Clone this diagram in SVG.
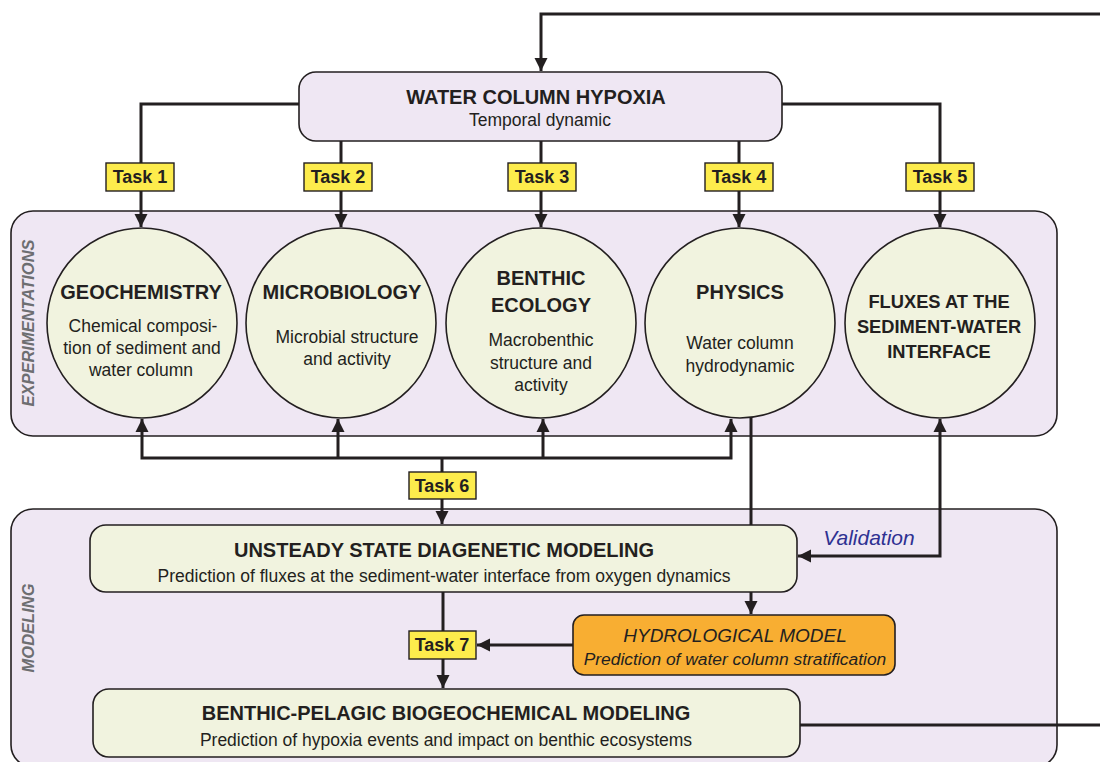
<svg xmlns="http://www.w3.org/2000/svg" width="1100" height="762" viewBox="0 0 1100 762">
<style>
.panel{fill:#efe7f3;stroke:#231f20;stroke-width:1.6}
.node{fill:#f1f3df;stroke:#231f20;stroke-width:1.6}
.top{fill:#efe7f3;stroke:#231f20;stroke-width:1.6}
.hydro{fill:#f8ae32;stroke:#231f20;stroke-width:1.6}
.task{fill:#fdec4c;stroke:#231f20;stroke-width:1.4}
.ln{fill:none;stroke:#231f20;stroke-width:3}
text{font-family:"Liberation Sans",Arial,sans-serif;fill:#231f20;text-anchor:middle}
.t{font-weight:bold;font-size:20px}
.s{font-size:17.5px}
.tk{font-weight:bold;font-size:18px}
.side{font-weight:bold;font-style:italic;font-size:16.5px;fill:#6d6e71}
.it{font-style:italic}
</style>
<defs>
<marker id="ah" markerUnits="userSpaceOnUse" markerWidth="14" markerHeight="14" viewBox="0 0 14 14" refX="13" refY="7" orient="auto-start-reverse">
<path d="M0,0.5 L13,7 L0,13.5 z" fill="#231f20"/>
</marker>
</defs>

<g id="panel-experimentations">
<rect class="panel" x="11" y="211" width="1046" height="225" rx="22"/>
<text class="side" transform="translate(34,323) rotate(-90)">EXPERIMENTATIONS</text>
</g>
<g id="panel-modeling">
<rect class="panel" x="11" y="509" width="1046" height="258" rx="22"/>
<text class="side" transform="translate(34,628) rotate(-90)">MODELING</text>
</g>

<g id="connectors">
<path class="ln" d="M1100,14 L541,14 L541,71" marker-end="url(#ah)"/>
<path class="ln" d="M300,104 L141,104 L141,227" marker-end="url(#ah)"/>
<path class="ln" d="M341,140 L341,227" marker-end="url(#ah)"/>
<path class="ln" d="M541,140 L541,227" marker-end="url(#ah)"/>
<path class="ln" d="M739,140 L739,227" marker-end="url(#ah)"/>
<path class="ln" d="M781,104 L940,104 L940,227" marker-end="url(#ah)"/>
<path class="ln" d="M142,419 L142,458 L731,458 L731,419" marker-start="url(#ah)" marker-end="url(#ah)"/>
<path class="ln" d="M338,458 L338,419" marker-end="url(#ah)"/>
<path class="ln" d="M543,458 L543,419" marker-end="url(#ah)"/>
<path class="ln" d="M442,458 L442,524" marker-end="url(#ah)"/>
<path class="ln" d="M751,418 L751,614" marker-end="url(#ah)"/>
<path class="ln" d="M940,419 L940,556 L798,556" marker-start="url(#ah)" marker-end="url(#ah)"/>
<path class="ln" d="M443,592 L443,688" marker-end="url(#ah)"/>
<path class="ln" d="M574,645 L477,645" marker-end="url(#ah)"/>
<path class="ln" d="M800,725 L1100,725"/>
<text class="it" x="869" y="545" style="font-size:21px;fill:#2e3192">Validation</text>
</g>

<g id="node-hypoxia">
<rect class="top" x="299" y="72" width="483" height="69" rx="17"/>
<text class="t" x="536" y="104">WATER COLUMN HYPOXIA</text>
<text class="s" x="540" y="126">Temporal dynamic</text>
</g>

<g id="task1"><rect class="task" x="106" y="163" width="68" height="28"/><text class="tk" x="140" y="183">Task 1</text></g>
<g id="task2"><rect class="task" x="304" y="163" width="68" height="28"/><text class="tk" x="338" y="183">Task 2</text></g>
<g id="task3"><rect class="task" x="508" y="163" width="68" height="28"/><text class="tk" x="542" y="183">Task 3</text></g>
<g id="task4"><rect class="task" x="705" y="163" width="68" height="28"/><text class="tk" x="739" y="183">Task 4</text></g>
<g id="task5"><rect class="task" x="906" y="163" width="68" height="28"/><text class="tk" x="940" y="183">Task 5</text></g>

<g id="node-geochemistry">
<circle class="node" cx="142" cy="323" r="95"/>
<text class="t" x="141" y="299">GEOCHEMISTRY</text>
<text class="s" x="143" y="332">Chemical composi-</text>
<text class="s" x="142" y="354">tion of sediment and</text>
<text class="s" x="141" y="376">water column</text>
</g>
<g id="node-microbiology">
<circle class="node" cx="341" cy="323" r="95"/>
<text class="t" x="342" y="299">MICROBIOLOGY</text>
<text class="s" x="347" y="343">Microbial structure</text>
<text class="s" x="347" y="365">and activity</text>
</g>
<g id="node-benthic-ecology">
<circle class="node" cx="541" cy="323" r="95"/>
<text class="t" x="541" y="285">BENTHIC</text>
<text class="t" x="541" y="312">ECOLOGY</text>
<text class="s" x="541" y="346">Macrobenthic</text>
<text class="s" x="541" y="369">structure and</text>
<text class="s" x="541" y="391">activity</text>
</g>
<g id="node-physics">
<circle class="node" cx="740" cy="323" r="95"/>
<text class="t" x="740" y="299">PHYSICS</text>
<text class="s" x="740" y="349">Water column</text>
<text class="s" x="740" y="372">hydrodynamic</text>
</g>
<g id="node-fluxes">
<circle class="node" cx="940" cy="323" r="95"/>
<text class="t" x="939" y="308" style="font-size:18.3px">FLUXES AT THE</text>
<text class="t" x="939" y="333" style="font-size:18.3px">SEDIMENT-WATER</text>
<text class="t" x="939" y="358" style="font-size:18.3px">INTERFACE</text>
</g>

<g id="task6"><rect class="task" x="409" y="472" width="67" height="27"/><text class="tk" x="442" y="492">Task 6</text></g>

<g id="node-unsteady">
<rect class="node" x="90" y="525" width="707" height="67" rx="16"/>
<text class="t" x="444" y="557">UNSTEADY STATE DIAGENETIC MODELING</text>
<text class="s" x="444" y="582">Prediction of fluxes at the sediment-water interface from oxygen dynamics</text>
</g>

<g id="node-hydrological">
<rect class="hydro" x="573" y="615" width="322" height="60" rx="11"/>
<text class="it" x="735" y="642" style="font-size:19px">HYDROLOGICAL MODEL</text>
<text class="it" x="735" y="665" style="font-size:17.4px">Prediction of water column stratification</text>
</g>

<g id="task7"><rect class="task" x="409" y="631" width="67" height="28"/><text class="tk" x="442" y="651">Task 7</text></g>

<g id="node-benthic-pelagic">
<rect class="node" x="93" y="689" width="707" height="68" rx="16"/>
<text class="t" x="446" y="720">BENTHIC-PELAGIC BIOGEOCHEMICAL MODELING</text>
<text class="s" x="446" y="746">Prediction of hypoxia events and impact on benthic ecosystems</text>
</g>
</svg>
